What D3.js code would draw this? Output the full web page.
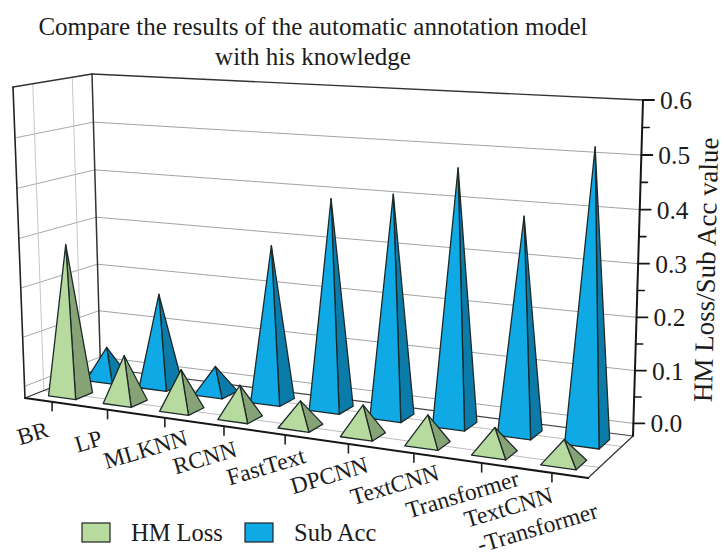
<!DOCTYPE html>
<html>
<head>
<meta charset="utf-8">
<script src="https://cdn.jsdelivr.net/npm/d3@7"></script>
<style>
html,body{margin:0;padding:0;background:#fff}
svg{display:block}
text{font-family:"Liberation Serif",serif;fill:#1c1c1c}
</style>
</head>
<body>
<svg id="chart" width="724" height="558"></svg>
<script>
// Data
const categories = ["BR","LP","MLKNN","RCNN","FastText","DPCNN","TextCNN","Transformer","TextCNN-Transformer"];
const seriesNames = ["HM Loss","Sub Acc"];
const hmLoss = [0.282,0.07,0.056,0.04,0.025,0.033,0.03,0.023,0.018];
const subAcc = [0.043,0.167,0.031,0.288,0.39,0.408,0.466,0.385,0.52];
const yTicks = [0,0.1,0.2,0.3,0.4,0.5,0.6];
const yMinorTicks = [0.05,0.15,0.25,0.35,0.45,0.55];
const titleLines = ["Compare the results of the automatic annotation model","with his knowledge"];
const yTitle = "HM Loss/Sub Acc value";

// Plot box corners on the page: front-left, front-right, back-right, back-left
const floorCorners = [[25,398],[588,478],[633,436],[100.5,368]];
const ceilCorners  = [[13,87],[600,117],[643,100],[92,74]];
const verticalEase = 0.975;   // foreshortening along the value axis
const widthEase = 0.859;      // foreshortening along the category axis

// Bilinear placement inside a quadrilateral
function quadMap(q){
  const [p0,p1,p2,p3] = q;
  return (u,v)=>{
    const a=[p0[0]+(p1[0]-p0[0])*u, p0[1]+(p1[1]-p0[1])*u];
    const b=[p3[0]+(p2[0]-p3[0])*u, p3[1]+(p2[1]-p3[1])*u];
    return [a[0]+(b[0]-a[0])*v, a[1]+(b[1]-a[1])*v];
  };
}
const floorMap = quadMap(floorCorners), ceilMap = quadMap(ceilCorners);
const ease = (t,k)=>t*k/((1-t)+t*k);

// Scales in normalised box coordinates
const xScale = d3.scaleBand().domain(categories).range([0,1]);
const zScale = d3.scaleBand().domain(seriesNames).range([0,1]);
const yScale = d3.scaleLinear().domain([-0.024,0.6]).range([0,1]);

function project(x,z,value){
  const u=ease(x,widthEase), s=ease(yScale(value),verticalEase);
  const b=floorMap(u,z), c=ceilMap(u,z);
  return [b[0]+(c[0]-b[0])*s, b[1]+(c[1]-b[1])*s];
}

const svg = d3.select("#chart");
const line = d3.line();
const floorValue = yScale.domain()[0], topValue = yScale.domain()[1];

function seg(parent,a,b,stroke,width){
  parent.append("path").attr("d",line([a,b])).attr("fill","none")
    .attr("stroke",stroke).attr("stroke-width",width).attr("stroke-linecap","round");
}

// Walls and floor grid
const grid = svg.append("g");
yTicks.forEach(v=>{
  if(v===topValue) return;
  seg(grid,project(0,0,v),project(0,1,v),"#a9a9a9",1);
  seg(grid,project(0,1,v),project(1,1,v),"#a3a3a3",1);
});
seriesNames.forEach(n=>{
  const z=zScale(n)+zScale.bandwidth()/2;
  seg(grid,project(0,z,floorValue),project(0,z,topValue),"#c6c6c6",1);
  seg(grid,project(0,z,floorValue),project(1,z,floorValue),"#bdbdbd",1);
});
// Frame edges
seg(grid,project(0,0,topValue),project(0,1,topValue),"#333",1.4);
seg(grid,project(0,1,topValue),project(1,1,topValue),"#333",1.4);
seg(grid,project(0,0,floorValue),project(0,0,topValue),"#222",1.6);
seg(grid,project(0,1,floorValue),project(0,1,topValue),"#333",1.5);
seg(grid,project(0,0,floorValue),project(0,1,floorValue),"#333",1.2);
seg(grid,project(0,1,floorValue),project(1,1,floorValue),"#444",1.2);
seg(grid,project(1,0,floorValue),project(1,1,floorValue),"#333",1.2);
seg(grid,project(0,0,floorValue),project(1,0,floorValue),"#161616",2);

// Value axis on the back right corner
const axis = svg.append("g");
seg(axis,project(1,1,floorValue),project(1,1,topValue),"#161616",2);
yTicks.forEach(v=>{
  const p=project(1,1,v);
  seg(axis,p,[p[0]+11,p[1]],"#161616",1.8);
  axis.append("text").attr("x",p[0]+17).attr("y",p[1]+9)
    .attr("font-size",25.5).text(d3.format(".1f")(v));
});
yMinorTicks.forEach(v=>{
  const p=project(1,1,v);
  seg(axis,p,[p[0]+7,p[1]],"#161616",1.6);
});

// Category ticks and labels along the front floor edge
const xAxis = svg.append("g");
categories.forEach((c,i)=>{
  const p=project(xScale(c)+xScale.bandwidth()/2,0,floorValue);
  seg(xAxis,p,[p[0],p[1]+9],"#222",1.6);
  const parts = c==="TextCNN-Transformer" ? ["TextCNN","-Transformer"] : [c];
  if(parts.length===1){
    xAxis.append("text").attr("text-anchor","middle")
      .attr("transform",`translate(${p[0]-17},${p[1]+39}) rotate(-16.5)`)
      .attr("font-size",23.5).text(c);
  } else {
    parts.forEach((t,k)=>{
      xAxis.append("text")
        .attr("transform",`translate(${p[0]-85+k*13},${p[1]+55+k*25}) rotate(-16.5)`)
        .attr("font-size",23.5).text(t);
    });
  }
});

// Pyramids: back row first, then left to right so nearer faces overlap
const palette = {"HM Loss":["#b7da9f","#86a376"],"Sub Acc":["#0fa9e6","#0b7ba9"]};
const widthFrac = 0.5;
function pyramid(cat,name,value){
  const bw=xScale.bandwidth()*widthFrac, dw=zScale.bandwidth()*widthFrac*0.92;
  const cx=xScale(cat)+xScale.bandwidth()/2, cz=zScale(name)+zScale.bandwidth()/2;
  const fl=project(cx-bw/2,cz-dw/2,floorValue);
  const fr=project(cx+bw/2,cz-dw/2,floorValue);
  const br=project(cx+bw/2,cz+dw/2,floorValue);
  const apex=project(cx,cz,value);
  const g=svg.append("g").attr("stroke","#1d2a2a").attr("stroke-width",1.3).attr("stroke-linejoin","round");
  g.append("path").attr("d",line([fr,br,apex])+"Z").attr("fill",palette[name][1]);
  g.append("path").attr("d",line([fl,fr,apex])+"Z").attr("fill",palette[name][0]);
}
categories.forEach((c,i)=>pyramid(c,"Sub Acc",subAcc[i]));
categories.forEach((c,i)=>pyramid(c,"HM Loss",hmLoss[i]));

// Title
titleLines.forEach((t,i)=>{
  svg.append("text").attr("x",313).attr("y",35+i*30).attr("text-anchor","middle")
    .attr("font-size",25).text(t);
});

// Value axis title
svg.append("text").attr("transform","translate(715,270) rotate(-88.6)")
  .attr("text-anchor","middle").attr("font-size",27).text(yTitle);

// Legend
const legendX = [[82,131],[245,294]];
seriesNames.forEach((n,i)=>{
  svg.append("rect").attr("x",legendX[i][0]).attr("y",523).attr("width",28).attr("height",19)
    .attr("fill",palette[n][0]).attr("stroke","#222").attr("stroke-width",1.2);
  svg.append("text").attr("x",legendX[i][1]).attr("y",541).attr("font-size",24.5).text(n);
});
</script>
</body>
</html>
